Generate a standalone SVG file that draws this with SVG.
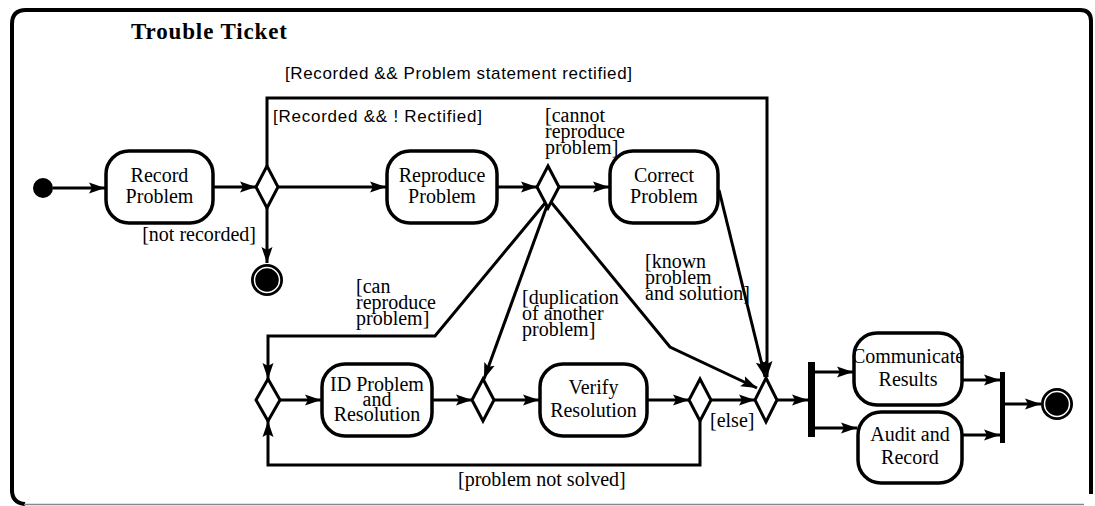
<svg xmlns="http://www.w3.org/2000/svg" width="1095" height="506" viewBox="0 0 1095 506">
<defs>
<marker id="arr" markerUnits="userSpaceOnUse" markerWidth="18" markerHeight="12" refX="16" refY="6" orient="auto">
<path d="M0,0.5 L16,6 L0,11.5 L3,6 z" fill="#000"/>
</marker>
<style>
.box{fill:#fff;stroke:#000;stroke-width:3.5}
.dia{fill:#fff;stroke:#000;stroke-width:3}
.edge{fill:none;stroke:#000;stroke-width:3;marker-end:url(#arr)}
.bar{fill:#000}
.t{font-family:"Liberation Serif","Times New Roman",serif;font-size:20px;fill:#000}
.c{text-anchor:middle}
.s{font-family:"Liberation Sans",Arial,sans-serif;font-size:17px;fill:#000}
</style>
</defs>
<rect width="1095" height="506" fill="#fff"/>
<g id="frame">
<path d="M12,492 L12,24 Q12,10 26,10 L1080,10 Q1091,10 1091,21 L1091,494" fill="none" stroke="#000" stroke-width="4"/>
<path d="M12,490 Q12,503 25,504" fill="none" stroke="#000" stroke-width="4"/>
<line x1="24" y1="504.5" x2="1084" y2="504.5" stroke="#888" stroke-width="1.5"/>
<text x="131" y="39" font-family="Liberation Serif,serif" font-weight="bold" font-size="23" textLength="156">Trouble Ticket</text>
</g>
<g id="connectors">
<path class="edge" d="M53,188 L105,188"/>
<path class="edge" d="M213,187 L256,187"/>
<path class="edge" d="M278,187 L386,187"/>
<path class="edge" d="M267,166 L267,98 L767,98 L767,377"/>
<path class="edge" d="M267,208 L267,263"/>
<path class="edge" d="M497,187 L537,187"/>
<path class="edge" d="M559,187 L609,187"/>
<path class="edge" d="M546,202 L435,336 L268,336 L268,379"/>
<path class="edge" d="M548,203 L484,379"/>
<path class="edge" d="M551,202 L670,347 L757,388"/>
<path class="edge" d="M719,190 L765,377"/>
<path class="edge" d="M279,400 L321,400"/>
<path class="edge" d="M432,400 L472,400"/>
<path class="edge" d="M494,400 L539,400"/>
<path class="edge" d="M647,400 L689,400"/>
<path class="edge" d="M711,400 L755,400"/>
<path class="edge" d="M700,421 L700,465 L268,465 L268,421"/>
<path class="edge" d="M777,400 L808,400"/>
<path class="edge" d="M815,372 L853,372"/>
<path class="edge" d="M815,428 L857,428"/>
<path class="edge" d="M962,380 L1000,380"/>
<path class="edge" d="M962,435 L1000,435"/>
<path class="edge" d="M1005,404 L1041,404"/>
<text class="s" x="285" y="79" textLength="347">[Recorded &amp;&amp; Problem statement rectified]</text>
<text class="s" x="273" y="122" textLength="209">[Recorded &amp;&amp; ! Rectified]</text>
<text class="t" x="256" y="241" text-anchor="end">[not recorded]</text>
<text class="t" x="545"><tspan x="545" y="122">[cannot</tspan><tspan x="545" y="138">reproduce</tspan><tspan x="545" y="154">problem]</tspan></text>
<text class="t" x="356"><tspan x="356" y="293">[can</tspan><tspan x="356" y="309">reproduce</tspan><tspan x="356" y="325">problem]</tspan></text>
<text class="t" x="522"><tspan x="522" y="304">[duplication</tspan><tspan x="522" y="320">of another</tspan><tspan x="522" y="336">problem]</tspan></text>
<text class="t" x="645"><tspan x="645" y="268">[known</tspan><tspan x="645" y="284">problem</tspan><tspan x="645" y="300">and solution]</tspan></text>
<text class="t" x="710" y="427">[else]</text>
<text class="t" x="458" y="486">[problem not solved]</text>
</g>
<g id="initial"><circle cx="43" cy="188" r="10" fill="#000"/></g>
<g id="record-problem">
<rect class="box" x="106" y="151" width="107" height="72" rx="23"/>
<text class="t c" x="159.5" y="182">Record</text>
<text class="t c" x="159.5" y="203">Problem</text>
</g>
<g id="decision-recorded"><polygon class="dia" points="267,166 278,187 267,208 256,187"/></g>
<g id="final-not-recorded">
<circle cx="267" cy="280" r="16" fill="#000"/>
<circle cx="267" cy="280" r="12.5" fill="none" stroke="#fff" stroke-width="1.5"/>
</g>
<g id="reproduce-problem">
<rect class="box" x="387" y="151" width="110" height="72" rx="23"/>
<text class="t c" x="442" y="182">Reproduce</text>
<text class="t c" x="442" y="203">Problem</text>
</g>
<g id="decision-reproduce"><polygon class="dia" points="548,166 559,187 548,208 537,187"/></g>
<g id="correct-problem">
<rect class="box" x="610" y="151" width="108" height="72" rx="23"/>
<text class="t c" x="664" y="182">Correct</text>
<text class="t c" x="664" y="203">Problem</text>
</g>
<g id="merge-id"><polygon class="dia" points="268,379 280,400 268,421 256,400"/></g>
<g id="id-problem">
<rect class="box" x="322" y="364" width="110" height="72" rx="23"/>
<text class="t c" x="377" y="391">ID Problem</text>
<text class="t c" x="377" y="406">and</text>
<text class="t c" x="377" y="421">Resolution</text>
</g>
<g id="merge-verify"><polygon class="dia" points="483,379 494,400 483,421 472,400"/></g>
<g id="verify-resolution">
<rect class="box" x="540" y="364" width="107" height="72" rx="23"/>
<text class="t c" x="593.5" y="394">Verify</text>
<text class="t c" x="593.5" y="417">Resolution</text>
</g>
<g id="decision-solved"><polygon class="dia" points="700,379 711,400 700,421 689,400"/></g>
<g id="merge-done"><polygon class="dia" points="766,378 777,400 766,422 755,400"/></g>
<g id="fork"><rect class="bar" x="808" y="362" width="7" height="75"/></g>
<g id="communicate-results">
<rect class="box" x="854" y="333" width="108" height="72" rx="23"/>
<text class="t c" x="908" y="363" font-size="18">Communicate</text>
<text class="t c" x="908" y="386">Results</text>
</g>
<g id="audit-and-record">
<rect class="box" x="858" y="412" width="104" height="71" rx="23"/>
<text class="t c" x="910" y="441">Audit and</text>
<text class="t c" x="910" y="464">Record</text>
</g>
<g id="join"><rect class="bar" x="1000" y="372" width="5" height="71"/></g>
<g id="final">
<circle cx="1057" cy="404" r="16" fill="#000"/>
<circle cx="1057" cy="404" r="12.5" fill="none" stroke="#fff" stroke-width="1.5"/>
</g>
</svg>
